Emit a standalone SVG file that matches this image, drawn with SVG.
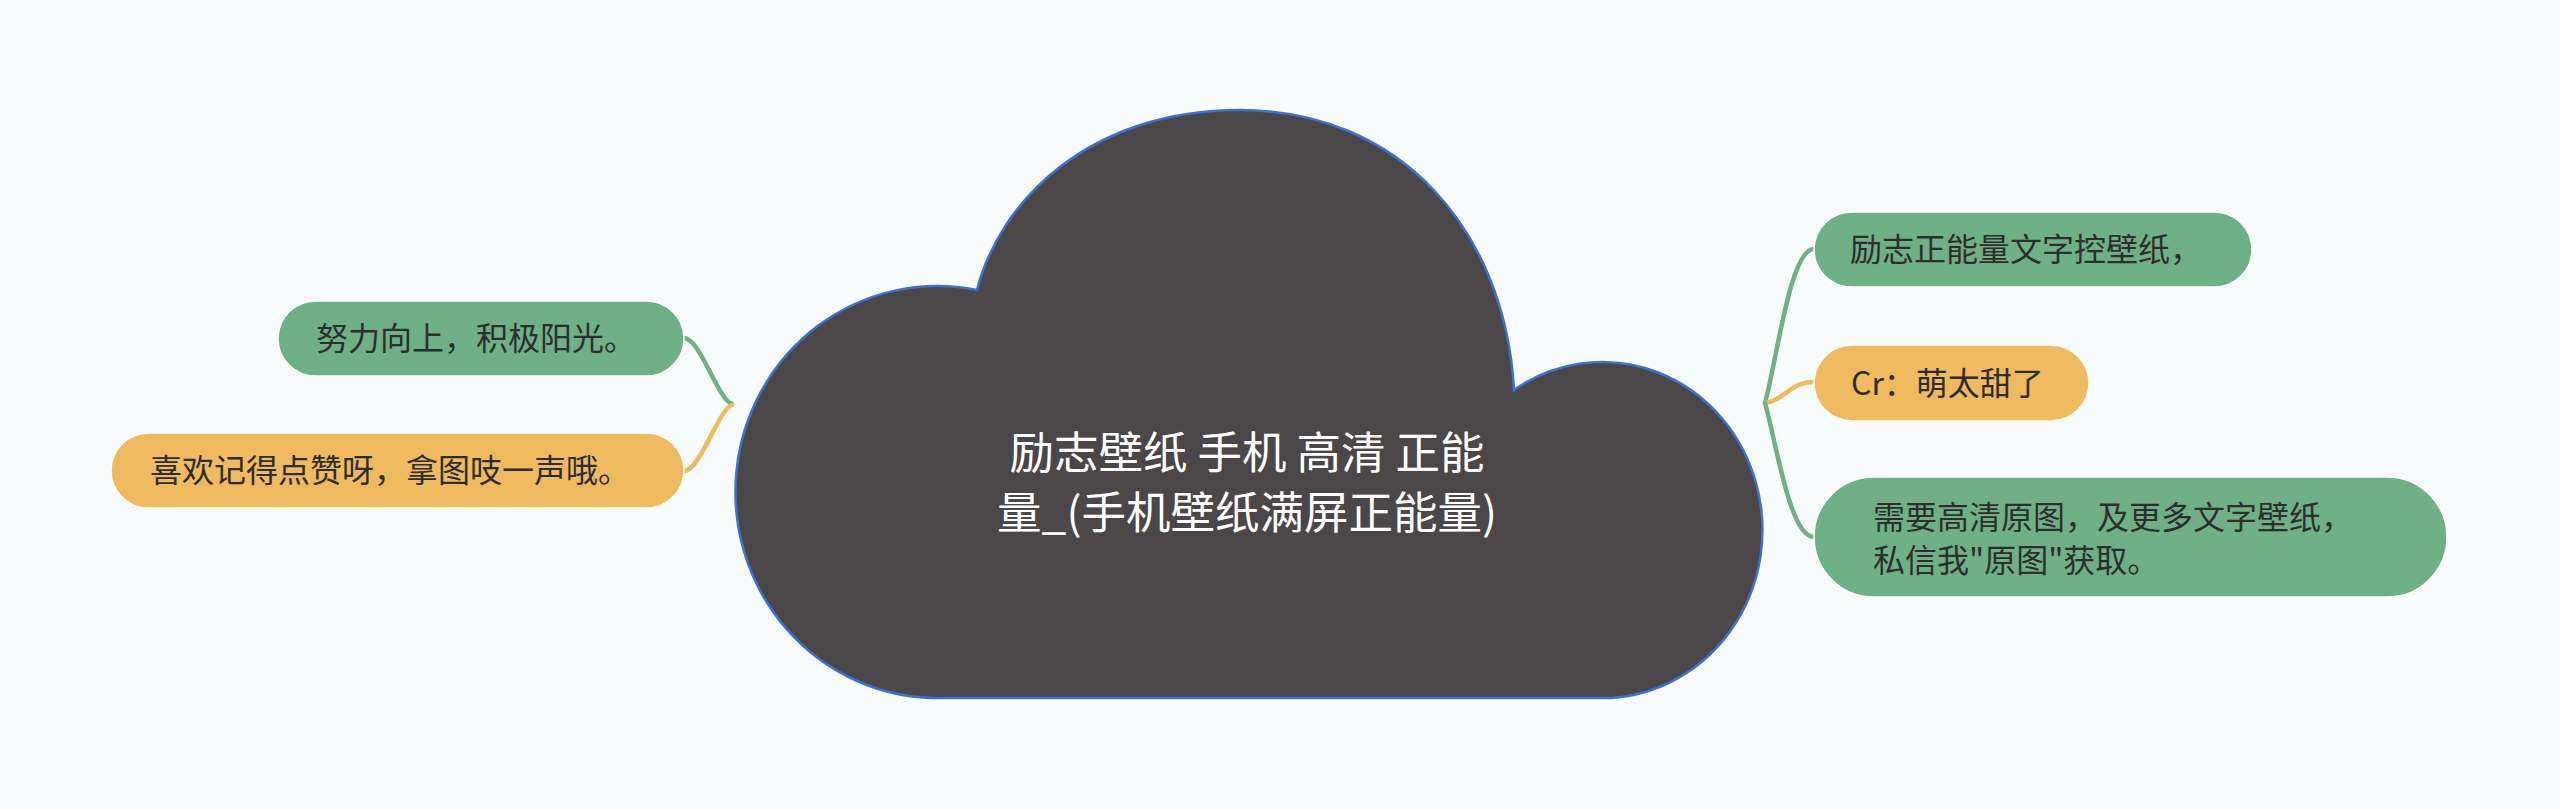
<svg xmlns="http://www.w3.org/2000/svg" width="2560" height="809" viewBox="0 0 2560 809">
<style>
.bg{fill:#f8fcfc}
.green{fill:#6fb087;stroke:#ffffff;stroke-width:1.5}
.orange{fill:#f0ba61;stroke:#ffffff;stroke-width:1.5}
.t{font-family:"Noto Sans CJK SC","Noto Sans",sans-serif;font-size:32px;fill:#2d2d2d}
.ct{font-family:"Noto Sans CJK SC","Noto Sans",sans-serif;font-size:44.5px;fill:#ffffff;text-anchor:middle}
.cg{fill:none;stroke:#6fb087;stroke-width:4.5;stroke-linecap:round}
.co{fill:none;stroke:#f0ba61;stroke-width:4.5;stroke-linecap:round}
</style>
<rect class="bg" x="0" y="0" width="2560" height="809"/>
<g id="connectors">
<path class="cg" d="M684,338 C700,338 718,400 732,404"/>
<path class="co" d="M684,471 C700,471 718,410 732,405"/>
<path class="cg" d="M1765,403 C1777,360 1790,249 1814,249"/>
<path class="co" d="M1765,403 C1785,400 1790,382 1814,382"/>
<path class="cg" d="M1765,403 C1777,446 1790,537 1814,537"/>
</g>
<g id="center">
<path d="M935,698 A202 206 0 1 1 977,290 C1000,200 1090,110 1240,110 C1400,110 1505,230 1514,390 A160 168 0 1 1 1600,698 Z" fill="#4b4647" stroke="#3d70d3" stroke-width="2.5"/>
<text class="ct" x="1247" y="469">励志壁纸 手机 高清 正能</text>
<text class="ct" x="1247" y="529">量_(手机壁纸满屏正能量)</text>
</g>
<g id="n-left-1">
<rect class="green" x="278" y="301" width="406" height="75" rx="37.5"/>
<text class="t" x="316" y="350">努力向上，积极阳光。</text>
</g>
<g id="n-left-2">
<rect class="orange" x="111" y="433" width="573" height="75" rx="37.5"/>
<text class="t" x="150" y="482">喜欢记得点赞呀，拿图吱一声哦。</text>
</g>
<g id="n-right-1">
<rect class="green" x="1814" y="212" width="438" height="75" rx="37.5"/>
<text class="t" x="1850" y="261">励志正能量文字控壁纸，</text>
</g>
<g id="n-right-2">
<rect class="orange" x="1814" y="345" width="275" height="76" rx="38"/>
<text class="t" x="1851" y="395">Cr：萌太甜了</text>
</g>
<g id="n-right-3">
<rect class="green" x="1814" y="477" width="633" height="120" rx="60"/>
<text class="t" x="1873" y="529">需要高清原图，及更多文字壁纸，</text>
<text class="t" x="1873" y="572">私信我"原图"获取。</text>
</g>
</svg>
